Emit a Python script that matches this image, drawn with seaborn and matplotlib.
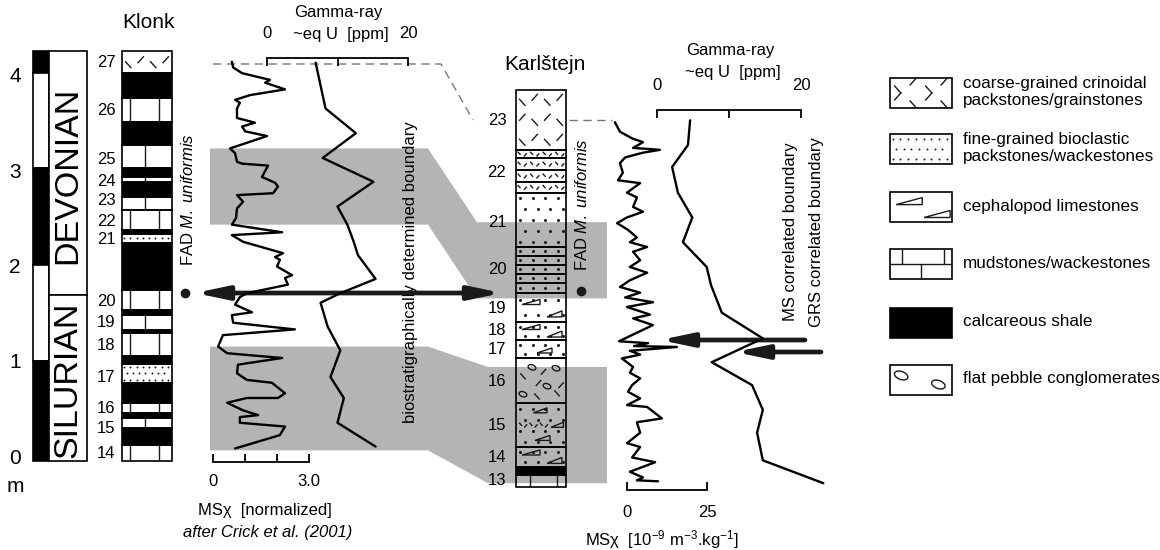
import numpy as np
import pandas as pd
import matplotlib
matplotlib.use("Agg")
import matplotlib.pyplot as plt
from matplotlib.patches import Rectangle, Polygon, Ellipse
import seaborn as sns

# ---------------- data (depth in m above section base) ----------------
klonk_ms_value = [0.59, 0.63, 0.91, 1.53, 1.78, 1.63, 2.25, 1.16, 0.69, 0.84, 0.75, 0.75, 1.31, 0.91,
                  1.00, 1.69, 0.53, 0.69, 0.75, 0.91, 1.72, 1.53, 1.94, 2.03, 1.88, 0.75, 0.94, 0.75,
                  0.72, 0.59, 2.16, 0.59, 0.94, 2.19, 1.94, 2.09, 2.00, 2.47, 2.25, 2.34, 1.06, 0.84,
                  0.69, 1.22, 0.59, 0.63, 2.56, 0.31, 0.16, 0.44, 2.16, 0.78, 0.75, 1.06, 1.84, 2.25,
                  2.03, 1.06, 0.44, 0.94, 1.41, 0.84, 0.84, 2.25, 2.09, 0.69]
klonk_ms_depth = [4.16, 4.10, 4.04, 3.99, 3.97, 3.94, 3.87, 3.81, 3.76, 3.73, 3.67, 3.57, 3.52, 3.48,
                  3.43, 3.38, 3.25, 3.20, 3.11, 3.09, 3.07, 2.95, 2.89, 2.85, 2.78, 2.76, 2.69, 2.62,
                  2.52, 2.45, 2.37, 2.34, 2.27, 2.15, 2.11, 2.08, 2.01, 1.92, 1.89, 1.82, 1.73, 1.69,
                  1.61, 1.53, 1.50, 1.42, 1.35, 1.29, 1.17, 1.10, 1.05, 0.98, 0.89, 0.82, 0.79, 0.68,
                  0.63, 0.63, 0.58, 0.50, 0.45, 0.43, 0.37, 0.33, 0.24, 0.10]

klonk_gr_value = [6.9, 8.3, 12.6, 7.9, 15.1, 10.0, 11.4, 12.3, 12.9, 15.4, 10.4, 7.6, 8.6, 10.4, 9.0,
                  10.9, 10.0, 15.4]
klonk_gr_depth = [4.15, 3.67, 3.41, 3.15, 2.90, 2.64, 2.45, 2.27, 2.13, 1.88, 1.73, 1.63, 1.38, 1.13,
                  0.85, 0.63, 0.37, 0.12]

karl_ms_value = [-3.8, -2.2, 1.6, 5.0, 1.9, 10.3, 5.0, -0.6, -2.2, -1.3, -2.8, 4.1, 0.0, 3.1, 1.9,
                 5.0, 0.0, -3.1, 0.3, 3.1, 0.9, 6.3, 1.9, 4.1, 0.9, 6.3, 0.9, -2.2, 4.1, -0.6, 8.1,
                 0.0, 7.2, 1.9, 8.1, -2.5, 6.6, 2.2, 15.6, 0.9, 4.1, -1.6, 1.9, 0.9, 4.1, 1.6, 0.3,
                 4.1, 0.0, 6.3, 10.9, 3.1, 4.1, 0.0, 4.1, 1.6, 8.8, 0.9, 5.0, 3.1, 9.7]
karl_ms_depth = [3.83, 3.73, 3.66, 3.62, 3.56, 3.54, 3.51, 3.46, 3.40, 3.30, 3.22, 3.19, 3.09, 3.04,
                 2.94, 2.89, 2.83, 2.77, 2.70, 2.62, 2.57, 2.52, 2.47, 2.38, 2.31, 2.25, 2.17, 2.10,
                 2.04, 1.99, 1.94, 1.89, 1.81, 1.77, 1.70, 1.53, 1.51, 1.48, 1.47, 1.43, 1.39, 1.35,
                 1.26, 1.20, 1.14, 1.07, 1.00, 0.93, 0.86, 0.84, 0.72, 0.68, 0.57, 0.46, 0.42, 0.31,
                 0.26, 0.16, 0.10, 0.07, 0.06]

karl_gr_value = [4.6, 4.3, 2.1, 2.9, 4.9, 3.6, 6.9, 7.5, 9.0, 14.7, 7.6, 13.2, 14.7, 13.9, 14.7, 23.1]
karl_gr_depth = [3.85, 3.59, 3.36, 3.09, 2.83, 2.57, 2.31, 2.12, 1.83, 1.56, 1.31, 1.07, 0.81, 0.57,
                 0.28, 0.04]

klonk_bed_tops = [4.27, 4.04, 3.78, 3.53, 3.29, 3.04, 2.95, 2.90, 2.74, 2.60, 2.39, 2.35, 2.26, 1.76,
                  1.55, 1.50, 1.34, 1.31, 1.07, 0.99, 0.79, 0.58, 0.47, 0.42, 0.31, 0.14]
klonk_bed_bases = klonk_bed_tops[1:] + [-0.03]
klonk_bed_types = ['crin', 'shale', 'mudA', 'shale', 'mudB', 'shale', 'mudB', 'shale', 'mudB', 'mudA',
                   'shale', 'fineK', 'shale', 'mudA', 'shale', 'mudB', 'shale', 'mudA', 'shale', 'fineK',
                   'shale', 'mudA', 'shale', 'mudB', 'shale', 'mudA']
klonk_bed_numbers = ['27', '26', '25', '24', '23', '22', '21', '20', '19', '18', '17', '16', '15', '14']
klonk_bed_number_depth = [4.15, 3.65, 3.13, 2.90, 2.70, 2.48, 2.29, 1.64, 1.42, 1.18, 0.84, 0.52, 0.31, 0.05]

karl_bed_tops = [4.17, 3.54, 3.45, 3.33, 3.20, 3.09, 2.52, 2.43, 2.33, 2.24, 2.14, 2.04, 1.73, 1.54,
                 1.35, 0.88, 0.42, 0.21, 0.13]
karl_bed_bases = karl_bed_tops[1:] + [0.0]
karl_bed_types = ['crin', 'finecrin', 'finecrin', 'finecrin', 'finecrin', 'fine', 'fine', 'fine', 'fine',
                  'fine', 'fine', 'fine+ceph', 'fine+ceph', 'fine+ceph1', 'pebble', 'fine+ceph3',
                  'fine+ceph', 'shale', 'mudK']
karl_bed_numbers = ['23', '22', '21', '20', '19', '18', '17', '16', '15', '14', '13']
karl_bed_number_depth = [3.85, 3.30, 2.78, 2.28, 1.87, 1.64, 1.44, 1.11, 0.65, 0.31, 0.07]

system_names = ['DEVONIAN', 'SILURIAN']
system_tops = [4.27, 1.71]
system_bases = [1.71, -0.03]
bar_tops = [4.27, 4.04, 3.04, 2.03, 1.02]
bar_bases = [4.04, 3.04, 2.03, 1.02, -0.03]
bar_black = [True, False, True, False, True]
scale_ticks = [0, 1, 2, 3, 4]

# correlation bands: (Klonk top, Klonk base), (Karlstejn top, Karlstejn base)
band_klonk = [(3.25, 2.45), (1.17, 0.08)]
band_karl = [(2.78, 1.98), (1.26, 0.04)]

legend_labels = ['coarse-grained crinoidal\npackstones/grainstones',
                 'fine-grained bioclastic\npackstones/wackestones',
                 'cephalopod limestones', 'mudstones/wackestones',
                 'calcareous shale', 'flat pebble conglomerates']
legend_kinds = ['crinL', 'fineL', 'cephL', 'brick', 'shale', 'pebbleL']

# ---------------- layout ----------------
W, H = 1160, 550
PXM = 95.25
K_BASE, R_BASE = 458.0, 487.0


def ky(m):
    return K_BASE - PXM * m


def ry(m):
    return R_BASE - PXM * m


sns.set_theme(style="white")
plt.rcParams['font.family'] = ['Liberation Sans', 'DejaVu Sans']
plt.rcParams['mathtext.fontset'] = 'custom'
plt.rcParams['mathtext.rm'] = 'Liberation Sans'
plt.rcParams['mathtext.it'] = 'Liberation Sans:italic'
plt.rcParams['mathtext.bf'] = 'Liberation Sans:bold'
plt.rcParams['text.color'] = 'black'
plt.rcParams['xtick.color'] = 'black'
plt.rcParams['axes.labelcolor'] = 'black'

fig = plt.figure(figsize=(W / 100, H / 100), dpi=100)
fig.patch.set_facecolor('white')
ax = fig.add_axes([0, 0, 1, 1])
ax.set_xlim(0, W)
ax.set_ylim(H, 0)
ax.axis('off')

GRAY = '#b4b4b4'
LW = 1.2


def seg(x0, y0, x1, y1, lw=1.0):
    ax.plot([x0, x1], [y0, y1], color='k', lw=lw, solid_capstyle='butt')


def mark(xc, yc, s, back):
    if back:
        seg(xc - s * 0.45, yc - s * 0.5, xc + s * 0.45, yc + s * 0.5)
    else:
        seg(xc - s * 0.45, yc + s * 0.5, xc + s * 0.45, yc - s * 0.5)


def dots(x0, x1, y0, y1, dx, dy, ms):
    nr = max(1, int(round((y1 - y0) / dy)))
    nc = max(1, int(round((x1 - x0) / dx)))
    xs, ys = [], []
    for i in range(nr):
        yc = y0 + (i + 0.5) * (y1 - y0) / nr
        off = 0.25 if i % 2 else -0.15
        for j in range(nc):
            xc = x0 + (j + 0.5 + off) * (x1 - x0) / nc
            if x0 + 2 < xc < x1 - 2:
                xs.append(xc)
                ys.append(yc)
    ax.plot(xs, ys, 'o', color='k', ms=ms, mew=0)


def tri(xa, xb, yb, th):
    ax.add_patch(Polygon([(xa, yb), (xb, yb - th), (xb, yb)], closed=True,
                         facecolor='none', edgecolor='k', lw=1.0))


def draw_pattern(kind, x0, x1, y0, y1):
    w = x1 - x0
    h = y1 - y0
    if kind == 'shale':
        ax.add_patch(Rectangle((x0, y0), w, h, facecolor='black', edgecolor='black', lw=LW))
        return
    for part in kind.split('+'):
        if part == 'mudA':
            seg(x0 + 0.167 * w, y0, x0 + 0.167 * w, y1)
            seg(x0 + 0.733 * w, y0, x0 + 0.733 * w, y1)
        elif part == 'mudB':
            seg(x0 + 0.45 * w, y0, x0 + 0.45 * w, y1)
        elif part == 'mudK':
            seg(x0 + 0.28 * w, y0, x0 + 0.28 * w, y1)
            seg(x0 + 0.81 * w, y0, x0 + 0.81 * w, y1)
        elif part == 'brick':
            ym = y0 + h / 2
            seg(x0, ym, x1, ym)
            seg(x0 + 0.2 * w, y0, x0 + 0.2 * w, ym)
            seg(x0 + 0.87 * w, y0, x0 + 0.87 * w, ym)
            seg(x0 + 0.5 * w, ym, x0 + 0.5 * w, y1)
        elif part in ('crin', 'crinL'):
            nr = max(1, int(round(h / 20)))
            nc = 4 if part == 'crinL' else max(2, int(round(w / 12)))
            for i in range(nr):
                yc = y0 + (i + 0.5) * h / nr
                for j in range(nc):
                    xc = x0 + (j + 0.5) * w / nc
                    back = (i + j) % 2 == 0
                    s = 8 if part == 'crinL' else 7
                    mark(xc, yc + (2.5 if back else -2.5) * (1.6 if part == 'crinL' else 1), s, back)
        elif part == 'finecrin':
            nc = int(w / 6)
            yc = y0 + h / 2
            for j in range(nc):
                xc = x0 + (j + 0.5) * w / nc
                mark(xc, yc + (0.8 if j % 2 else -0.8), 3.2, j % 2 == 0)
        elif part == 'fine':
            dots(x0, x1, y0, y1, 12, 12, 2.2)
        elif part == 'fineK':
            dots(x0, x1, y0, y1, 6, 6, 1.4)
        elif part == 'fineL':
            dots(x0, x1, y0, y1, 8, 9, 1.4)
        elif part == 'ceph':
            tri(x0 + 0.12 * w, x0 + 0.48 * w, y0 + 0.4 * h, 5)
            tri(x0 + 0.62 * w, x0 + 0.92 * w, y0 + 0.82 * h, 6)
        elif part == 'ceph1':
            tri(x0 + 0.42 * w, x0 + 0.72 * w, y0 + 0.7 * h, 5)
        elif part == 'ceph3':
            tri(x0 + 0.35 * w, x0 + 0.62 * w, y0 + 0.22 * h, 5)
            tri(x0 + 0.7 * w, x0 + 0.95 * w, y0 + 0.55 * h, 5)
            tri(x0 + 0.38 * w, x0 + 0.68 * w, y0 + 0.85 * h, 5)
            for j in range(6):
                xc = x0 + (j + 0.5) * 0.62 * w / 6 + 0.04 * w
                mark(xc, y0 + 0.5 * h + (0.8 if j % 2 else -0.8), 3.2, j % 2 == 0)
        elif part == 'cephL':
            tri(x0 + 0.1 * w, x0 + 0.52 * w, y0 + 0.42 * h, 7)
            tri(x0 + 0.55 * w, x0 + 0.97 * w, y0 + 0.85 * h, 7)
        elif part in ('pebble', 'pebbleL'):
            if part == 'pebble':
                ells = [(0.32, 0.2), (0.8, 0.22), (0.62, 0.62), (0.14, 0.8)]
                dashes = [(0.14, 0.4, True), (0.55, 0.3, False), (0.45, 0.55, False),
                          (0.82, 0.78, True), (0.42, 0.85, True), (0.9, 0.6, False)]
                ew, eh = 8, 5
            else:
                ells = [(0.18, 0.35), (0.78, 0.65)]
                dashes = []
                ew, eh = 14, 8
            for (fx, fy) in ells:
                ax.add_patch(Ellipse((x0 + fx * w, y0 + fy * h), ew, eh, angle=20,
                                     facecolor='none', edgecolor='k', lw=1.0))
            for (fx, fy, b) in dashes:
                mark(x0 + fx * w, y0 + fy * h, 6, b)
    ax.add_patch(Rectangle((x0, y0), w, h, facecolor='none', edgecolor='black', lw=LW))


# ---------------- correlation bands ----------------
for (kt, kb), (rt, rb), xs in zip(band_klonk, band_karl, [(210, 428, 477), (210, 428, 488)]):
    xa, xb, xc = xs
    poly = [(xa, ky(kt)), (xb, ky(kt)), (xc, ry(rt)), (607, ry(rt)), (607, ry(rb)),
            (xc, ry(rb)), (xb, ky(kb)), (xa, ky(kb))]
    ax.add_patch(Polygon(poly, closed=True, facecolor=GRAY, edgecolor='none', zorder=0))

# ---------------- Klonk scale / system column ----------------
for t in scale_ticks:
    ax.text(15, ky(t), str(t), ha='center', va='center', fontsize=15)
ax.text(15, 487, 'm', ha='center', va='center', fontsize=15)
for t, b, blk in zip(bar_tops, bar_bases, bar_black):
    ax.add_patch(Rectangle((33, ky(t)), 16, ky(b) - ky(t), facecolor='black' if blk else 'white',
                           edgecolor='black', lw=LW))
for name, t, b in zip(system_names, system_tops, system_bases):
    ax.add_patch(Rectangle((49, ky(t)), 38, ky(b) - ky(t), facecolor='white', edgecolor='black', lw=LW))
    ax.text(68, (ky(t) + ky(b)) / 2 + 2, name, rotation=90, ha='center', va='center', fontsize=24.5)

# ---------------- Klonk column ----------------
ax.text(148, 23, 'Klonk', ha='center', va='center', fontsize=15)
for t, b, k in zip(klonk_bed_tops, klonk_bed_bases, klonk_bed_types):
    draw_pattern(k, 122, 172, ky(t), ky(b))
for n, d in zip(klonk_bed_numbers, klonk_bed_number_depth):
    ax.text(106, ky(d), n, ha='center', va='center', fontsize=12)

# ---------------- Karlstejn column ----------------
ax.text(545, 64, 'Karlštejn', ha='center', va='center', fontsize=15)
for t, b, k in zip(karl_bed_tops, karl_bed_bases, karl_bed_types):
    draw_pattern(k, 516, 566, ry(t), ry(b))
for n, d in zip(karl_bed_numbers, karl_bed_number_depth):
    ax.text(497, ry(d), n, ha='center', va='center', fontsize=12)

# ---------------- annotations ----------------
fad = r'FAD $\mathit{M.\ uniformis}$'
ax.text(188, 200, fad, rotation=90, ha='center', va='center', fontsize=12)
ax.text(582, 205, fad, rotation=90, ha='center', va='center', fontsize=12)
ax.plot([185], [293], 'o', color='k', ms=7, mew=0)
ax.plot([581], [291], 'o', color='k', ms=7, mew=0)
ax.text(411, 272, 'biostratigraphically determined boundary', rotation=90, ha='center',
        va='center', fontsize=12)
ax.text(790, 232, 'MS correlated boundary', rotation=90, ha='center', va='center', fontsize=12)
ax.text(816, 232, 'GRS correlated boundary', rotation=90, ha='center', va='center', fontsize=12)

astyle = dict(lw=3.4, color='k', mutation_scale=20, shrinkA=0, shrinkB=0)
ax.annotate('', xy=(195, 293), xytext=(502, 293),
            arrowprops=dict(arrowstyle='<|-|>,head_length=0.95,head_width=0.2', **astyle))
ax.annotate('', xy=(660, 340), xytext=(805, 340),
            arrowprops=dict(arrowstyle='-|>,head_length=0.95,head_width=0.2', **astyle))
ax.annotate('', xy=(735, 352), xytext=(821, 352),
            arrowprops=dict(arrowstyle='-|>,head_length=0.95,head_width=0.2', **astyle))

ax.plot([213, 441, 473], [64, 64, 120], color='#777777', lw=1.0, ls=(0, (6, 4)))
ax.plot([569, 612], [120, 120], color='#777777', lw=1.0, ls=(0, (6, 4)))

# axis titles
ax.text(338, 12, 'Gamma-ray', ha='center', va='center', fontsize=12)
ax.text(341, 35, '~eq U  [ppm]', ha='center', va='center', fontsize=12)
ax.text(730, 50, 'Gamma-ray', ha='center', va='center', fontsize=12)
ax.text(733, 73, '~eq U  [ppm]', ha='center', va='center', fontsize=12)
ax.text(265, 510, 'MSχ  [normalized]', ha='center', va='center', fontsize=12)
ax.text(268, 532, 'after Crick et al. (2001)', ha='center', va='center', fontsize=12,
        style='italic')
ax.text(662, 540, r'MSχ  [10$^{\mathregular{-9}}$ m$^{\mathregular{-3}}$.kg$^{\mathregular{-1}}$]',
        ha='center', va='center', fontsize=12)

# ---------------- legend ----------------
leg_y = [78, 134, 192, 249, 308, 365]
for y0, lab, kind in zip(leg_y, legend_labels, legend_kinds):
    draw_pattern(kind, 890, 952, y0, y0 + 30)
    ax.text(963, y0 + 14, lab, ha='left', va='center', fontsize=12.3, linespacing=1.1)


# ---------------- curve tracks ----------------
def track(x0, x1, y0, y1, xlim, base):
    a = fig.add_axes([x0 / W, 1 - y1 / H, (x1 - x0) / W, (y1 - y0) / H])
    a.patch.set_alpha(0)
    return a, (xlim, ((base - y1) / PXM, (base - y0) / PXM))


def curve(a, lims, values, depth):
    df = pd.DataFrame({'value': values, 'depth': depth})
    sns.lineplot(data=df, x='value', y='depth', sort=False, estimator=None, color='black',
                 lw=1.7, ax=a)
    for ln in a.lines:
        ln.set_clip_on(False)
    a.set_xlim(*lims[0])
    a.set_ylim(*lims[1])
    a.set_xlabel('')
    a.set_ylabel('')
    a.set_yticks([])
    for s in a.spines.values():
        s.set_visible(False)
        s.set_linewidth(1.3)
        s.set_color('black')


def bottom_axis(a, ticks, labels, pad):
    a.spines['bottom'].set_visible(True)
    a.set_xticks(ticks)
    a.set_xticklabels(labels)
    a.tick_params(axis='x', which='major', bottom=True, top=False, labelbottom=True,
                  labeltop=False, direction='in', length=6, width=1.3, pad=pad,
                  labelsize=12, color='black', labelcolor='black')


def top_axis(a, ticks, labels, pad):
    a.spines['top'].set_visible(True)
    a.set_xticks(ticks)
    a.set_xticklabels(labels)
    a.tick_params(axis='x', which='major', bottom=False, top=True, labelbottom=False,
                  labeltop=True, direction='in', length=6, width=1.3, pad=pad,
                  labelsize=12, color='black', labelcolor='black')


# Klonk MS
a1, l1 = track(213, 309, 58, 462, (0, 3), K_BASE)
curve(a1, l1, klonk_ms_value, klonk_ms_depth)
bottom_axis(a1, [0, 1, 2, 3], ['0', '', '', '3.0'], 9)

# Klonk GR
a2, l2 = track(267, 408, 58, 462, (0, 20), K_BASE)
curve(a2, l2, klonk_gr_value, klonk_gr_depth)
top_axis(a2, [0, 10, 20], ['0', '', '20'], 12)

# Karlstejn MS
a3, l3 = track(627, 707, 110, 490, (0, 25), R_BASE)
curve(a3, l3, karl_ms_value, karl_ms_depth)
bottom_axis(a3, [0, 25], ['0', '25'], 11)

# Karlstejn GR
a4, l4 = track(657, 801, 110, 490, (0, 20), R_BASE)
curve(a4, l4, karl_gr_value, karl_gr_depth)
top_axis(a4, [0, 10, 20], ['0', '', '20'], 12)

fig.savefig('out.png', dpi=100, facecolor='white')
